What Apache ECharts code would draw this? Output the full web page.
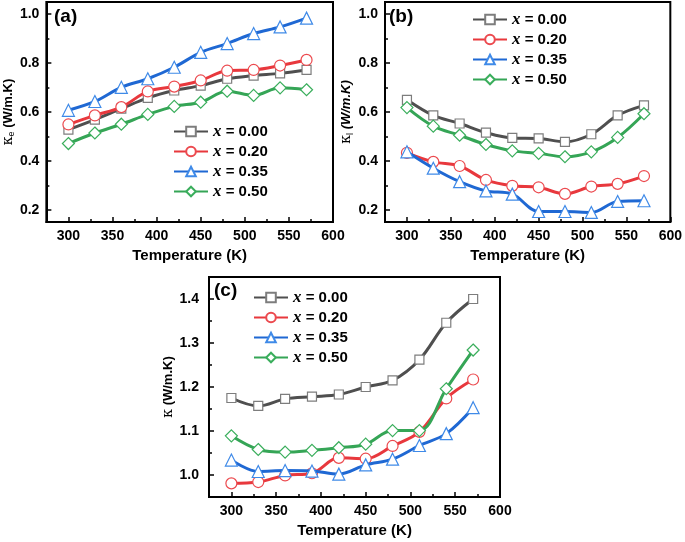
<!DOCTYPE html>
<html><head><meta charset="utf-8">
<script src="https://cdn.jsdelivr.net/npm/echarts@6/dist/echarts.min.js"></script>
<style>html,body{margin:0;padding:0;background:#fff}#c{width:685px;height:542px}</style>
</head><body><div id="c"></div>
<script>
const temps = [300,330,360,390,420,450,480,510,540,570];
const compositions = ['0.00','0.20','0.35','0.50'];

// (a) electronic thermal conductivity
const keX000 = [0.528,0.569,0.614,0.658,0.688,0.708,0.736,0.749,0.758,0.772];
const keX020 = [0.549,0.586,0.620,0.684,0.704,0.729,0.769,0.772,0.790,0.813];
const keX035 = [0.607,0.643,0.701,0.736,0.783,0.844,0.880,0.921,0.948,0.984];
const keX050 = [0.471,0.514,0.550,0.590,0.623,0.640,0.685,0.668,0.699,0.691];
// (b) lattice thermal conductivity
const klX000 = [0.650,0.586,0.553,0.516,0.494,0.492,0.478,0.509,0.586,0.627];
const klX020 = [0.433,0.396,0.379,0.322,0.298,0.292,0.265,0.295,0.306,0.338];
const klX035 = [0.437,0.370,0.315,0.277,0.264,0.193,0.193,0.189,0.234,0.237];
const klX050 = [0.618,0.542,0.505,0.467,0.441,0.431,0.417,0.437,0.496,0.593];
// (c) total thermal conductivity
const kX000 = [1.175,1.157,1.173,1.178,1.183,1.200,1.215,1.262,1.346,1.400];
const kX020 = [0.981,0.984,0.999,1.004,1.039,1.037,1.066,1.098,1.174,1.217];
const kX035 = [1.034,1.008,1.010,1.009,1.002,1.023,1.036,1.067,1.094,1.153];
const kX050 = [1.089,1.058,1.052,1.056,1.062,1.070,1.101,1.101,1.196,1.284];

const xTicks = [300,350,400,450,500,550,600];
const xMinor = [325,375,425,475,525,575];
const yTicksAB = [0.2,0.4,0.6,0.8,1.0];
const yMinorAB = [0.3,0.5,0.7,0.9];
const yTicksC = [1.0,1.1,1.2,1.3,1.4];
const yMinorC = [1.05,1.15,1.25,1.35];

const FONT = 'Liberation Sans, Arial, sans-serif';
const styles = [
  {line:'#4f4f4f', border:'#7d7d7d', symbol:'rect', size:9},
  {line:'#e8383d', border:'#ec4a4f', symbol:'circle', size:11},
  {line:'#1f68d3', border:'#3f8ae8', symbol:'triangle', size:12},
  {line:'#35a556', border:'#3aae5c', symbol:'diamond', size:12}
];

const grids = [
  {left:45, top:2, width:288, height:220},
  {left:385, top:2, width:289, height:220},
  {left:209, top:277, width:291, height:220}
];
const yRanges = [[0.15,1.05],[0.15,1.05],[0.95,1.45]];
const yTickSets = [[yTicksAB,yMinorAB],[yTicksAB,yMinorAB],[yTicksC,yMinorC]];
const yNames = [
  '{k|κ}{s|e}{b| (W/m.K)}',
  '{k|κ}{s|l}{bi| (W/m.K)}',
  '{k|κ}{b| (W/m.K)}'
];
const panelData = [
  [keX000,keX020,keX035,keX050],
  [klX000,klX020,klX035,klX050],
  [kX000,kX020,kX035,kX050]
];

const xAxis = [], yAxis = [], series = [], legend = [];
grids.forEach((g,i)=>{
  xAxis.push({
    type:'value', gridIndex:i, min:275, max:600,
    name:'Temperature (K)', nameLocation:'middle', nameGap:26,
    nameTextStyle:{fontFamily:FONT, fontWeight:'bold', fontSize:15, color:'#000'},
    axisLine:{show:true, lineStyle:{color:'#000', width:2}},
    axisTick:{show:true, inside:true, length:5, customValues:xTicks, lineStyle:{color:'#000', width:1.5}},
    axisLabel:{show:true, customValues:xTicks, margin:7, fontFamily:FONT, fontWeight:'bold', fontSize:14, color:'#000'},
    splitLine:{show:false}
  });
  xAxis.push({
    type:'value', gridIndex:i, min:275, max:600, position:'bottom',
    axisLine:{show:false},
    axisTick:{show:true, inside:true, length:3, customValues:xMinor, lineStyle:{color:'#000', width:1.5}},
    axisLabel:{show:false}, splitLine:{show:false}
  });
  const [maj,min] = yTickSets[i];
  yAxis.push({
    type:'value', gridIndex:i, min:yRanges[i][0], max:yRanges[i][1],
    name:yNames[i], nameLocation:'middle', nameGap: i===2 ? 34 : 29,
    nameTextStyle:{fontFamily:FONT, fontWeight:'bold', fontSize:13, color:'#000',
      rich:{
        k:{fontFamily:'DejaVu Serif, serif', fontSize:14, fontWeight:'normal', color:'#000'},
        s:{fontFamily:FONT, fontSize:9, fontWeight:'normal', color:'#000', padding:[7,0,0,0]},
        b:{fontFamily:FONT, fontSize:13, fontWeight:'bold', color:'#000'},
        bi:{fontFamily:FONT, fontSize:13, fontWeight:'bold', fontStyle:'italic', color:'#000'}
      }},
    axisLine:{show:true, lineStyle:{color:'#000', width:2}},
    axisTick:{show:true, inside:true, length:5, customValues:maj, lineStyle:{color:'#000', width:1.5}},
    axisLabel:{show:true, customValues:maj, margin: i===2 ? 10 : 7, fontFamily:FONT, fontWeight:'bold', fontSize:14, color:'#000',
      formatter:v=>v.toFixed(1)},
    splitLine:{show:false}
  });
  yAxis.push({
    type:'value', gridIndex:i, min:yRanges[i][0], max:yRanges[i][1], position:'left',
    axisLine:{show:false},
    axisTick:{show:true, inside:true, length:3, customValues:min, lineStyle:{color:'#000', width:1.5}},
    axisLabel:{show:false}, splitLine:{show:false}
  });
  const names = [];
  panelData[i].forEach((vals,j)=>{
    const st = styles[j];
    const nm = 'p'+i+':'+compositions[j];
    names.push(nm);
    series.push({
      type:'line', name:nm, xAxisIndex:2*i, yAxisIndex:2*i,
      data: temps.map((t,k)=>[t, vals[k]]),
      smooth:0.35, symbol:st.symbol, symbolSize:st.size, showSymbol:true,
      lineStyle:{color:st.line, width:3},
      itemStyle:{color:'#fff', borderColor:st.border, borderWidth:1.2},
      emphasis:{disabled:true}, z:2+j
    });
  });
  legend.push({
    data:names, orient:'vertical', itemWidth:34, itemHeight:12, itemGap:3, padding:0,
    selectedMode:false,
    formatter: n => '{x|x}{v| = ' + n.split(':')[1] + '}',
    textStyle:{rich:{
      x:{fontFamily:'Liberation Serif, Times New Roman, serif', fontStyle:'italic', fontWeight:'bold', fontSize:17, color:'#000'},
      v:{fontFamily:FONT, fontWeight:'bold', fontSize:15, color:'#000'}
    }}
  });
});
Object.assign(legend[0], {left:173, top:123});
Object.assign(legend[1], {left:472, top:11});
Object.assign(legend[2], {left:253, top:289});

grids.forEach(g=>{ g.show=true; g.borderColor='#000'; g.borderWidth=2; g.backgroundColor='transparent'; });

const chart = echarts.init(document.getElementById('c'), null, {renderer:'canvas'});
chart.setOption({
  animation:false,
  backgroundColor:'#fff',
  grid:grids, xAxis, yAxis, series, legend,
  graphic:[
    {type:'text', left:54, top:7, style:{text:'(a)', fontFamily:FONT, fontWeight:'bold', fontSize:19, fill:'#000'}},
    {type:'text', left:389, top:7, style:{text:'(b)', fontFamily:FONT, fontWeight:'bold', fontSize:19, fill:'#000'}},
    {type:'text', left:214, top:281, style:{text:'(c)', fontFamily:FONT, fontWeight:'bold', fontSize:19, fill:'#000'}}
  ]
});
</script></body></html>
